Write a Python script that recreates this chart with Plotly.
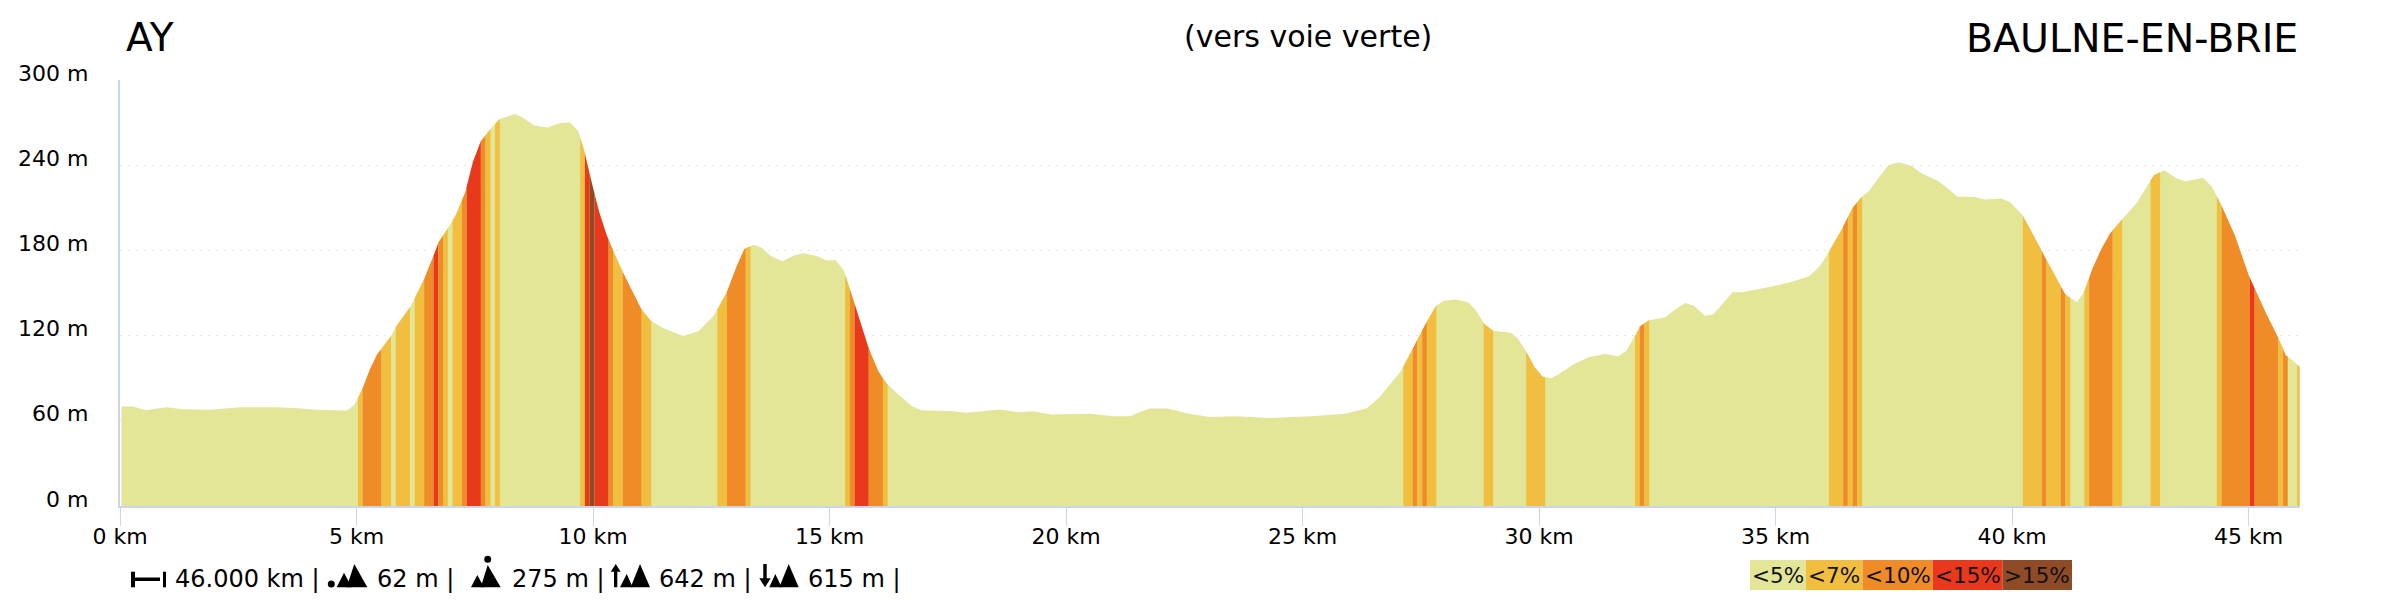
import numpy as np
import plotly.graph_objects as go

km = [0.03,0.27,0.55,0.98,1.33,1.9,2.53,3.3,3.75,4.15,4.64,4.8,4.96,5.12,5.28,5.44,5.69,5.85,6.13,6.37,6.58,6.74,6.9,7.1,7.3,7.46,7.63,7.87,8.03,8.35,8.51,8.76,9.04,9.28,9.52,9.69,9.81,9.97,10.13,10.29,10.53,10.77,11.02,11.22,11.5,11.9,12.23,12.55,12.8,13.04,13.2,13.4,13.56,13.76,14.0,14.25,14.45,14.73,14.93,15.13,15.3,15.5,15.78,16.03,16.19,16.51,16.75,16.95,17.6,17.89,18.6,19.02,19.3,19.7,20.5,21.0,21.35,21.55,21.77,22.15,22.6,23.03,23.6,24.3,25.2,25.9,26.35,26.63,26.87,27.08,27.29,27.5,27.68,27.82,28.0,28.25,28.5,28.67,28.85,29.03,29.41,29.55,29.7,29.91,30.08,30.26,30.47,30.72,31.04,31.39,31.68,31.85,32.03,32.14,32.31,32.67,32.88,33.09,33.27,33.51,33.69,33.87,34.09,34.29,34.5,34.93,35.35,35.72,35.94,36.13,36.39,36.61,36.8,36.98,37.2,37.39,37.6,37.88,38.1,38.43,38.65,38.84,39.21,39.43,39.77,39.96,40.22,40.44,40.7,40.92,41.11,41.37,41.52,41.7,41.89,42.07,42.33,42.63,42.82,43.0,43.22,43.48,43.67,44.04,44.23,44.41,44.71,45.01,45.38,45.64,45.79,45.9,46.08]
elevation = [70,70,67.5,69.5,68.2,67.8,69.6,69.6,68.8,67.8,67.2,67.2,71.5,82,96,107,117.5,127,140,155,172,186,194,205,221,242,257,267,272.6,276,273.6,268,266.5,269.6,270,263.7,250.7,228,207,190.6,171.7,155,138.7,130.4,125,119.8,123,134,148,169,181,184,182,176,172.4,176.4,178,176,173,173,166,145.8,115,95,86.8,77,70,67.5,66.7,65.6,67.9,66,66.7,64.4,64.9,63.2,63.2,66,68.6,68.6,65,62.7,63.2,62,63.2,65,68.6,76.5,86,95,108,122,133,141,144.7,145.4,143.5,137.6,128,123.5,122,118,110.6,97.6,91,90,94,99.5,104.7,107,105.4,109.4,119.5,126.6,130.6,133,138.4,143,141,134,135,142,150.6,150.6,151.8,154.6,158,162,169,179,194,209,217,222,232,240,242,239.5,234,229,223.5,218,217.6,215.8,216.5,214,205,191.8,175,162,149.4,143.5,150.6,167,181,191.8,202,213,223.5,233,236.5,230.6,228.7,231,224.7,213,190.6,162,135,117.6,106,103.5,98]

band_start = [5.03,5.13,5.53,5.83,6.23,6.43,6.63,6.73,6.83,7.03,7.23,7.33,7.63,7.73,7.93,9.73,9.83,9.93,10.03,10.33,10.43,10.63,11.03,12.63,12.83,13.23,15.33,15.43,15.53,15.83,16.13,27.13,27.33,27.43,27.53,27.63,28.83,29.73,32.03,32.13,32.23,36.13,36.43,36.53,36.63,36.73,40.23,40.63,40.73,41.03,41.13,41.53,41.63,42.13,42.93,44.33,44.43,45.03,45.13,45.63,45.73,46.03]
band_end   = [5.13,5.53,5.73,6.13,6.43,6.63,6.73,6.83,6.93,7.23,7.33,7.63,7.73,7.83,8.03,9.83,9.93,10.03,10.33,10.43,10.63,11.03,11.23,12.83,13.23,13.33,15.43,15.53,15.83,16.13,16.23,27.33,27.43,27.53,27.63,27.83,29.03,30.13,32.13,32.23,32.33,36.43,36.53,36.63,36.73,36.83,40.63,40.73,41.03,41.13,41.23,41.63,42.13,42.33,43.13,44.43,45.03,45.13,45.63,45.73,45.83,46.08]
band_grade = [7,10,7,7,7,10,15,10,7,7,10,15,10,7,7,7,15,20,15,10,7,10,7,7,10,7,7,10,15,10,7,7,10,7,10,7,7,7,7,10,7,7,10,7,10,7,7,10,7,10,7,7,10,7,7,7,10,15,10,7,10,7]

grade_colors = {5:"#E3E597",7:"#F2BE40",10:"#F08C28",15:"#E8391C",20:"#8F4B26"}
legend_labels = ["<5%","<7%","<10%","<15%",">15%"]
legend_grades = [5,7,10,15,20]
x_ticks = [0,5,10,15,20,25,30,35,40,45]
y_ticks = [0,60,120,180,240,300]
FONT = "DejaVu Sans"
PAGE = 8  # the page's own body margin
L, R, T, B = 120, 2300, 80, 506  # plot area in page pixels

def X(p): return (p-L)/(R-L)
def Y(p): return (B-p)/(B-T)

km_a, el_a = np.array(km), np.array(elevation)
fig = go.Figure()
fig.add_trace(go.Scatter(x=km, y=elevation, mode="lines", line=dict(width=0), fill="tozeroy",
                         fillcolor=grade_colors[5], hoverinfo="skip", showlegend=False))
for s, e, g in zip(band_start, band_end, band_grade):
    inner = (km_a > s) & (km_a < e)
    xs = [s] + km_a[inner].tolist() + [e]
    ys = [float(np.interp(s, km_a, el_a))] + el_a[inner].tolist() + [float(np.interp(e, km_a, el_a))]
    fig.add_trace(go.Scatter(x=xs, y=ys, mode="lines", line=dict(width=0), fill="tozeroy",
                             fillcolor=grade_colors[g], hoverinfo="skip", showlegend=False))

anns = []
def text(x, y, s, size, anchor="left", color="#000"):
    anns.append(dict(x=X(x), y=Y(y), xref="paper", yref="paper", text=s, showarrow=False,
                     xanchor=anchor, yanchor="middle", font=dict(family=FONT, size=size, color=color)))

text(124, 38, "AY", 39)
text(1308, 37, "(vers voie verte)", 30, "center")
text(2300, 38, "BAULNE-EN-BRIE", 39.5, "right")
for px, s in zip([173, 375, 510, 657, 806],
                 ["46.000 km |", "62 m |", "275 m |", "642 m |", "615 m |"]):
    text(px, 579, s, 24)

for v in y_ticks:
    anns.append(dict(x=X(90), xref="paper", y=v, yref="y", yshift=7, text=f"{v} m", showarrow=False,
                     xanchor="right", yanchor="middle", font=dict(family=FONT, size=22, color="#000")))

edges = [1750, 1806, 1862.5, 1932.6, 2002.7, 2072]
shapes = []
for i, (lab, g) in enumerate(zip(legend_labels, legend_grades)):
    shapes.append(dict(type="rect", xref="paper", yref="paper", x0=X(edges[i]), x1=X(edges[i+1]),
                       y0=Y(590), y1=Y(560), fillcolor=grade_colors[g], line=dict(width=0)))
    text((edges[i]+edges[i+1])/2, 575, lab, 21.5, "center", "#111")

def path(pts, fill="#000"):
    d = "M " + " L ".join(f"{X(a):.6f},{Y(b):.6f}" for a, b in pts) + " Z"
    shapes.append(dict(type="path", xref="paper", yref="paper", path=d, fillcolor=fill, line=dict(width=0)))
def dot(cx, cy, r):
    shapes.append(dict(type="circle", xref="paper", yref="paper", x0=X(cx-r), x1=X(cx+r),
                       y0=Y(cy+r), y1=Y(cy-r), fillcolor="#000", line=dict(width=0)))
def tri(a, apex, b, top, base=587.3):
    path([(a, base), (apex, top), (b, base)])

path([(131,571.7),(135,571.7),(135,587.3),(131,587.3)])
path([(135,577.5),(160,577.5),(160,581),(135,581)])
path([(163,571.7),(166,571.7),(166,587.3),(163,587.3)])
dot(331.3,584,3.5); tri(336.7,344,351.7,572.7); tri(346.7,354.3,367.3,564)
dot(487.7,559.3,3.5); tri(471,477.3,484,575); tri(480.7,487.7,500.7,565)
path([(615.7,564),(620.7,571.7),(617.3,571.7),(617.3,587.3),(614,587.3),(614,571.7),(610.7,571.7)])
tri(620,626.7,632.7,574); tri(630.7,640,650,564)
path([(763.3,564),(766.7,564),(766.7,578.3),(770.7,578.3),(765,587.3),(759.3,578.3),(763.3,578.3)])
tri(769.3,775.3,781.7,574); tri(779.3,788.7,798.7,564)

fig.update_layout(
    width=2400-PAGE, height=600-PAGE, autosize=False, showlegend=False,
    margin=dict(l=L-PAGE, r=2400-R, t=T-PAGE, b=600-B, pad=0),
    paper_bgcolor="#fff", plot_bgcolor="#fff", hovermode=False,
    annotations=anns, shapes=shapes,
    font=dict(family=FONT, color="#000"),
)
fig.update_xaxes(range=[0, (R-L)/47.3], tickvals=x_ticks, ticktext=[f"{v} km" for v in x_ticks],
                 ticks="outside", ticklen=18, tickwidth=1, tickcolor="#ccd6eb",
                 showline=True, linecolor="#ccd6eb", linewidth=2, showgrid=False, zeroline=False,
                 ticklabelstandoff=-8,
                 tickfont=dict(family=FONT, size=22, color="#000"))
fig.update_yaxes(range=[0, 300], tickvals=y_ticks, showticklabels=False,
                 ticks="", showline=True, linecolor="#ccd6eb", linewidth=2,
                 showgrid=True, gridcolor="#e6e6e6", griddash="2px,6px", gridwidth=1, zeroline=False)
fig.write_html("out.html")
